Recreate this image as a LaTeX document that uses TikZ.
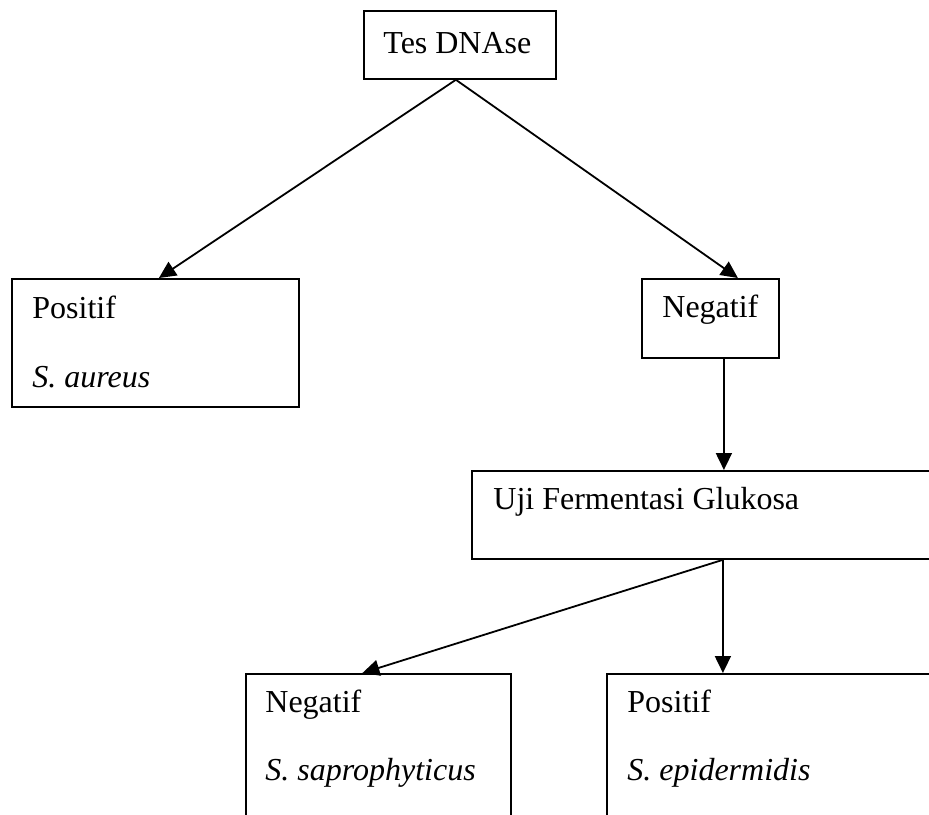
\documentclass[tikz,border=0pt]{standalone}
\usepackage{fontspec}
\setmainfont{Liberation Serif}
\usetikzlibrary{arrows.meta}

\begin{document}
\begin{tikzpicture}[x=0.5pt, y=-0.5pt,
  box/.style={draw, line width=0.9pt, inner sep=0pt, anchor=north west},
  lbl/.style={inner sep=0pt, anchor=base west, font=\fontsize{16}{19}\selectfont},
  arr/.style={-{Triangle[length=8.5pt,width=8pt]}, line width=0.9pt}]
  \useasboundingbox (0,0) rectangle (929,814);
  \clip (0,0) rectangle (929,814);
% boxes
  \node[box, minimum width=96pt,  minimum height=34pt]   (tes)  at (363,10)  {};
  \node[box, minimum width=143.5pt, minimum height=64pt] (pos1) at (11,278)  {};
  \node[box, minimum width=68.5pt, minimum height=39.5pt] (neg1) at (641,278) {};
  \node[box, minimum width=251pt, minimum height=44pt]   (uji)  at (471,470) {};
  \node[box, minimum width=132.5pt, minimum height=100pt] (neg2) at (245,673) {};
  \node[box, minimum width=200pt, minimum height=100pt]  (pos2) at (606,673) {};
% texts
  \node[lbl] (tesT)   at (383,53)  {Tes DNAse};
  \node[lbl] (pos1T)  at (32,318)  {Positif};
  \node[lbl] (pos1S)  at (32,387)  {\itshape S. aureus};
  \node[lbl] (neg1T)  at (662,317) {Negatif};
  \node[lbl] (ujiT)   at (493,509) {Uji Fermentasi Glukosa};
  \node[lbl] (neg2T)  at (265,712) {Negatif};
  \node[lbl] (neg2S)  at (265,780) {\itshape S. saprophyticus};
  \node[lbl] (pos2T)  at (627,712) {Positif};
  \node[lbl] (pos2S)  at (627,780) {\itshape S. epidermidis};
% arrows
  \draw[arr] ([xshift=-2pt]tes.south) -- ([xshift=1.75pt]pos1.north);
  \draw[arr] ([xshift=-2pt]tes.south) -- ([xshift=13.75pt]neg1.north);
  \draw[arr] ([xshift=6.75pt]neg1.south) -- ([xshift=6.75pt]neg1.south |- uji.north);
  \draw[arr] (uji.south) -- ([xshift=-8pt]neg2.north);
  \draw[arr] (uji.south) -- (uji.south |- pos2.north);
\end{tikzpicture}
\end{document}
